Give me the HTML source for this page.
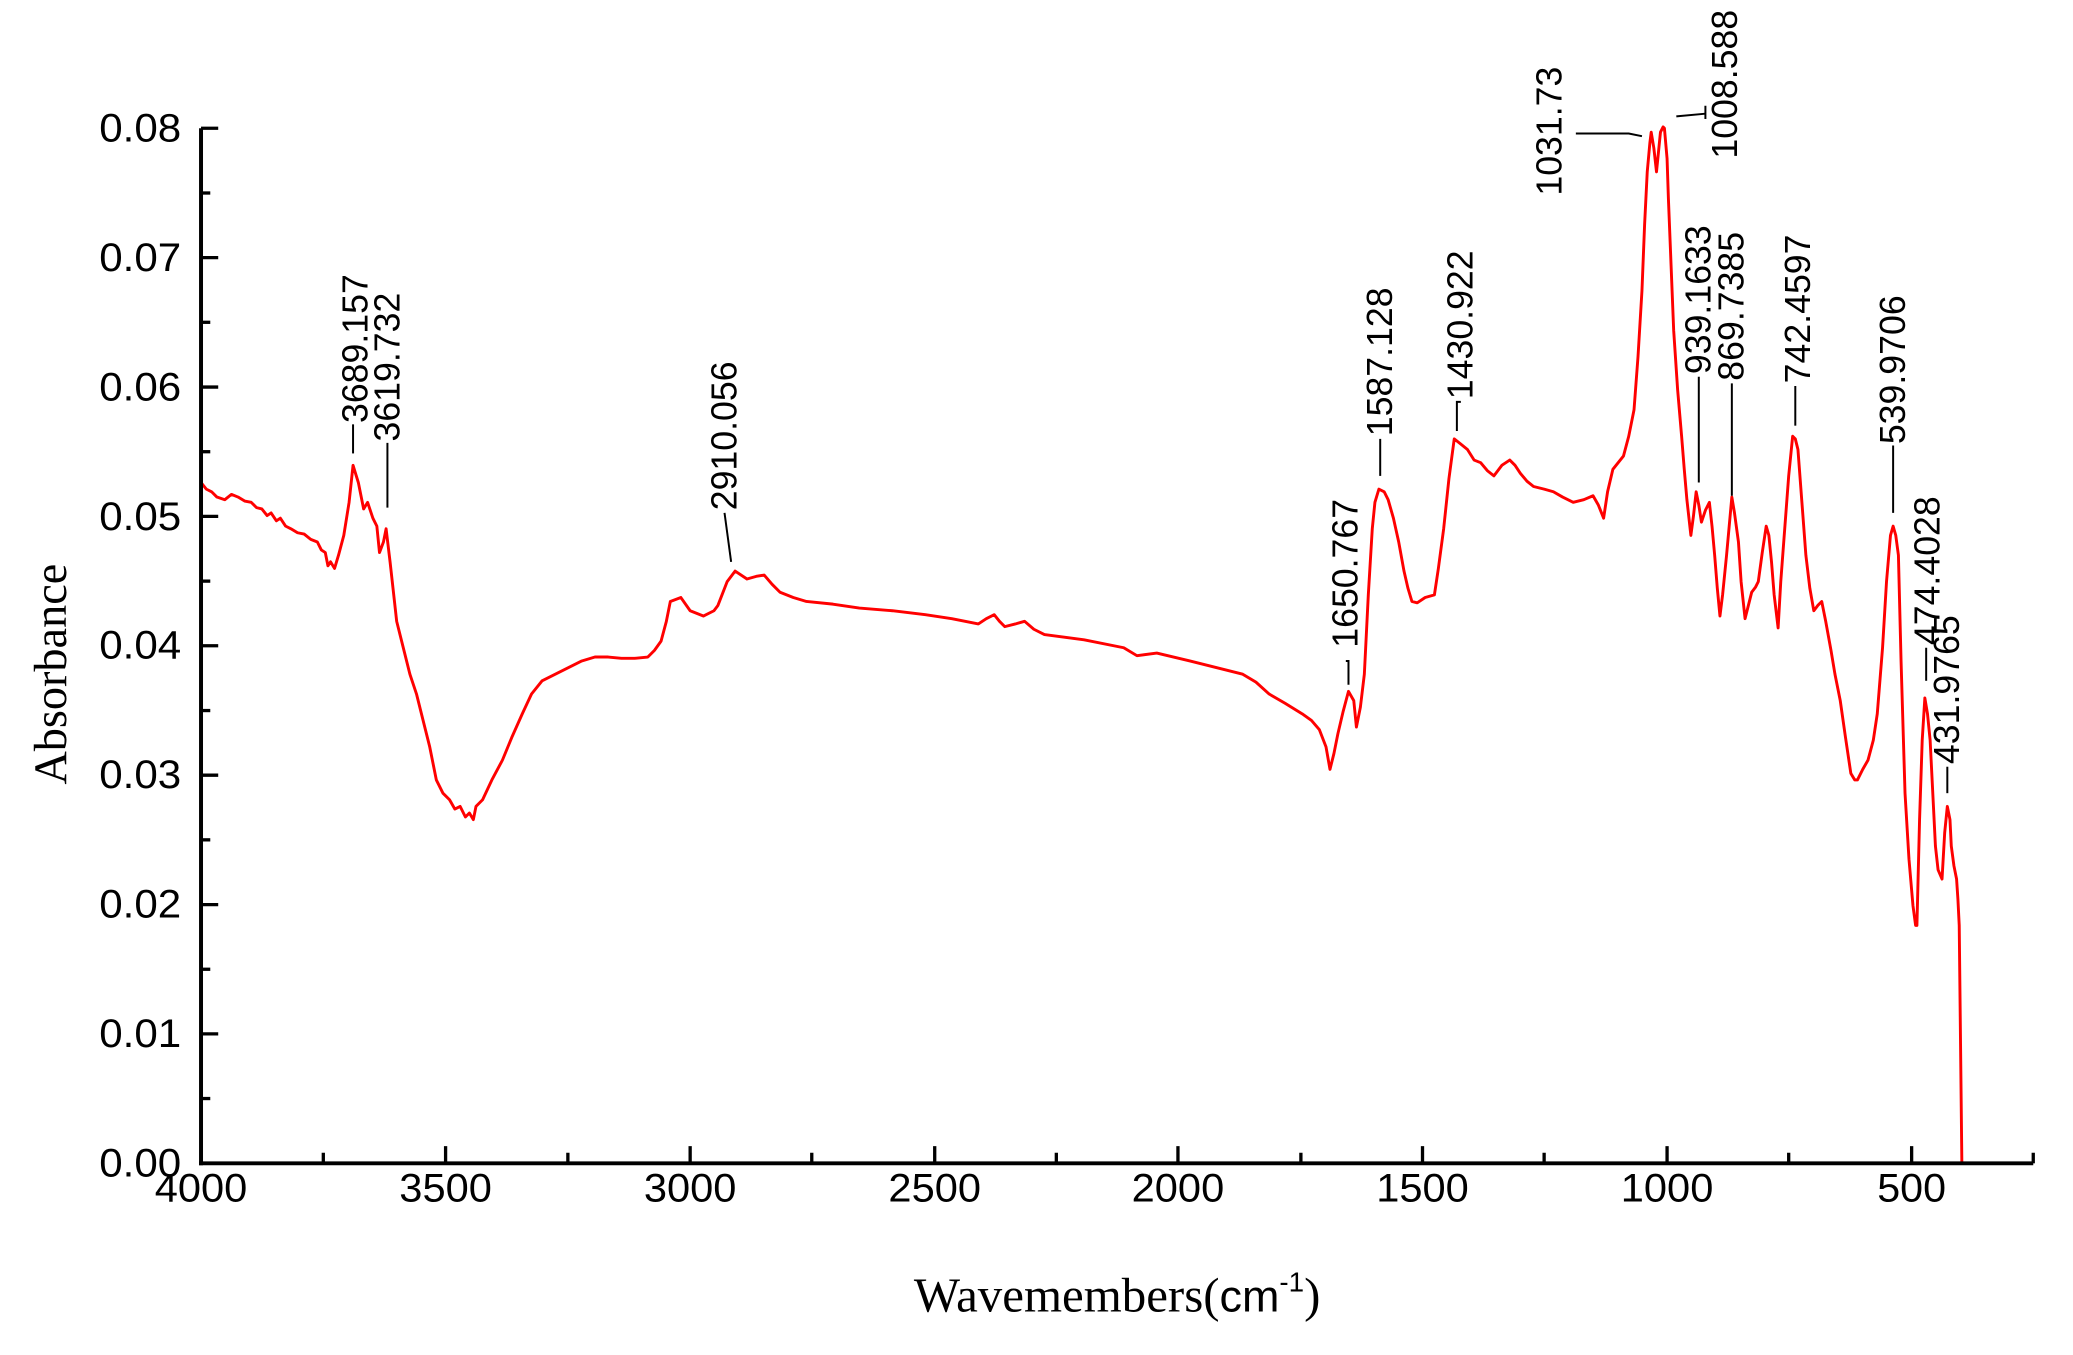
<!DOCTYPE html>
<html><head><meta charset="utf-8"><style>html,body{margin:0;padding:0;background:#fff}svg{display:block}</style></head>
<body>
<svg width="2073" height="1355" viewBox="0 0 1568 1025" xmlns="http://www.w3.org/2000/svg">
<rect width="1568" height="1025" fill="#fff"/>
<polyline fill="none" stroke="#f00" stroke-width="2.2" stroke-linejoin="round" points="152,880 152,365 156,370 160,372 164,376 170,378 175,374 180,376 185,379 190,380 194,384 198,385 202,390 205,388 209,394 212,392 216,398 220,400 225,403 230,404 235,408 240,410 243,416 246,418 248,428 250,425 253,430 256,420 260,405 264,380 267,352 271,365 275,385 278,380 282,392 285,398 287,418 290,410 292,400 295,425 300,470 305,490 310,510 315,525 320,545 325,565 330,590 335,600 340,605 344,612 348,610 352,618 355,615 358,620 360,610 365,605 372,590 380,575 387,558 395,540 402,525 410,515 420,510 430,505 440,500 450,497 460,497 470,498 480,498 490,497 495,492 500,485 504,470 507,455 515,452 522,462 532,466 540,462 543,458 550,440 556,432 565,438 572,436 578,435 584,442 590,448 600,452 610,455 630,457 650,460 675,462 700,465 720,468 740,472 746,468 752,465 756,470 760,474 768,472 775,470 782,476 790,480 820,484 850,490 860,496 875,494 900,500 920,505 940,510 950,516 960,525 972,532 985,540 992,545 998,552 1003,565 1006,582 1009,570 1012,555 1016,538 1020,523 1024,530 1026,550 1029,535 1032,510 1035,450 1038,400 1040,380 1043,370 1047,372 1050,378 1054,392 1058,410 1062,432 1065,445 1068,455 1072,456 1078,452 1085,450 1088,430 1092,400 1096,362 1100,332 1105,336 1110,340 1115,348 1120,350 1125,356 1130,360 1136,352 1142,348 1146,352 1150,358 1155,364 1160,368 1168,370 1175,372 1182,376 1190,380 1198,378 1205,375 1209,382 1213,392 1216,372 1220,355 1224,350 1228,345 1232,330 1236,310 1239,270 1242,220 1244,170 1246,130 1248,108 1249,100 1251,112 1253,130 1255,110 1256,100 1258,96 1259,97 1261,120 1262,150 1264,200 1266,250 1269,295 1272,330 1274,355 1276,378 1279,405 1281,390 1283,372 1285,382 1287,395 1290,386 1293,380 1295,398 1297,420 1299,445 1301,466 1303,450 1306,420 1308,398 1310,376 1312,388 1315,410 1317,440 1320,468 1322,460 1325,448 1328,444 1330,440 1333,418 1336,398 1338,405 1340,425 1342,450 1345,475 1347,440 1350,400 1353,360 1356,330 1358,332 1360,340 1363,380 1366,420 1369,445 1372,462 1375,458 1378,455 1381,470 1385,492 1388,510 1392,530 1396,558 1400,585 1403,590 1405,590 1409,582 1413,575 1417,560 1420,540 1424,490 1427,440 1430,405 1432,398 1434,405 1436,420 1438,500 1441,600 1444,650 1447,685 1449,700 1450,700 1452,620 1454,560 1456,528 1458,540 1460,560 1462,600 1464,640 1466,658 1469,665 1471,630 1473,610 1475,620 1476,640 1478,655 1480,665 1481,680 1482,700 1483,790 1484,880"/>
<g stroke="#000" stroke-width="3" fill="none">
<line x1="152" y1="97" x2="152" y2="881.5"/>
<line x1="150.5" y1="880" x2="1538" y2="880"/>
</g>
<g stroke="#000" stroke-width="2.5">
<line x1="152" y1="880" x2="165" y2="880"/><line x1="152" y1="782.1" x2="165" y2="782.1"/><line x1="152" y1="684.3" x2="165" y2="684.3"/><line x1="152" y1="586.4" x2="165" y2="586.4"/><line x1="152" y1="488.5" x2="165" y2="488.5"/><line x1="152" y1="390.6" x2="165" y2="390.6"/><line x1="152" y1="292.8" x2="165" y2="292.8"/><line x1="152" y1="194.9" x2="165" y2="194.9"/><line x1="152" y1="97" x2="165" y2="97"/>
<line x1="152" y1="831" x2="159" y2="831"/><line x1="152" y1="733.2" x2="159" y2="733.2"/><line x1="152" y1="635.3" x2="159" y2="635.3"/><line x1="152" y1="537.5" x2="159" y2="537.5"/><line x1="152" y1="439.6" x2="159" y2="439.6"/><line x1="152" y1="341.7" x2="159" y2="341.7"/><line x1="152" y1="243.8" x2="159" y2="243.8"/><line x1="152" y1="146" x2="159" y2="146"/>
<line x1="337" y1="880" x2="337" y2="867"/><line x1="522" y1="880" x2="522" y2="867"/><line x1="707" y1="880" x2="707" y2="867"/><line x1="891" y1="880" x2="891" y2="867"/><line x1="1076" y1="880" x2="1076" y2="867"/><line x1="1261" y1="880" x2="1261" y2="867"/><line x1="1446" y1="880" x2="1446" y2="867"/>
<line x1="244.5" y1="880" x2="244.5" y2="872"/><line x1="429.5" y1="880" x2="429.5" y2="872"/><line x1="614" y1="880" x2="614" y2="872"/><line x1="799" y1="880" x2="799" y2="872"/><line x1="984" y1="880" x2="984" y2="872"/><line x1="1168" y1="880" x2="1168" y2="872"/><line x1="1353" y1="880" x2="1353" y2="872"/><line x1="1538" y1="880" x2="1538" y2="872"/>
</g>
<g font-family="Liberation Sans, Arial, sans-serif" font-size="30" fill="#000" text-anchor="end">
<text x="137" y="890" textLength="62" lengthAdjust="spacingAndGlyphs">0.00</text>
<text x="137" y="792" textLength="62" lengthAdjust="spacingAndGlyphs">0.01</text>
<text x="137" y="694" textLength="62" lengthAdjust="spacingAndGlyphs">0.02</text>
<text x="137" y="596" textLength="62" lengthAdjust="spacingAndGlyphs">0.03</text>
<text x="137" y="498" textLength="62" lengthAdjust="spacingAndGlyphs">0.04</text>
<text x="137" y="401" textLength="62" lengthAdjust="spacingAndGlyphs">0.05</text>
<text x="137" y="303" textLength="62" lengthAdjust="spacingAndGlyphs">0.06</text>
<text x="137" y="205" textLength="62" lengthAdjust="spacingAndGlyphs">0.07</text>
<text x="137" y="107" textLength="62" lengthAdjust="spacingAndGlyphs">0.08</text>
</g>
<g font-family="Liberation Sans, Arial, sans-serif" font-size="30" fill="#000" text-anchor="middle">
<text x="152" y="909" textLength="70" lengthAdjust="spacingAndGlyphs">4000</text>
<text x="337" y="909" textLength="70" lengthAdjust="spacingAndGlyphs">3500</text>
<text x="522" y="909" textLength="70" lengthAdjust="spacingAndGlyphs">3000</text>
<text x="707" y="909" textLength="70" lengthAdjust="spacingAndGlyphs">2500</text>
<text x="891" y="909" textLength="70" lengthAdjust="spacingAndGlyphs">2000</text>
<text x="1076" y="909" textLength="70" lengthAdjust="spacingAndGlyphs">1500</text>
<text x="1261" y="909" textLength="70" lengthAdjust="spacingAndGlyphs">1000</text>
<text x="1446" y="909" textLength="52" lengthAdjust="spacingAndGlyphs">500</text>
</g>
<text transform="translate(50,510) rotate(-90)" font-family="Liberation Serif, serif" font-size="35" text-anchor="middle">Absorbance</text>
<text x="845" y="992" font-family="Liberation Serif, serif" font-size="37" text-anchor="middle">Wavemembers(<tspan font-family="Liberation Sans, sans-serif" font-size="34">cm</tspan><tspan font-family="Liberation Sans, sans-serif" font-size="21" dy="-15">-1</tspan><tspan dy="15">)</tspan></text>
<g font-family="Liberation Sans, Arial, sans-serif" font-size="27" fill="#000">
<text transform="translate(278,320) rotate(-90)">3689.157</text>
<text transform="translate(302,334) rotate(-90)">3619.732</text>
<text transform="translate(557,386) rotate(-90)">2910.056</text>
<text transform="translate(1027,490) rotate(-90)">1650.767</text>
<text transform="translate(1053,330) rotate(-90)">1587.128</text>
<text transform="translate(1114,302) rotate(-90)">1430.922</text>
<text transform="translate(1181,148) rotate(-90)">1031.73</text>
<text transform="translate(1314,120) rotate(-90)">1008.588</text>
<text transform="translate(1294,283) rotate(-90)">939.1633</text>
<text transform="translate(1319,288) rotate(-90)">869.7385</text>
<text transform="translate(1369,290) rotate(-90)">742.4597</text>
<text transform="translate(1441,336) rotate(-90)">539.9706</text>
<text transform="translate(1467,488) rotate(-90)">474.4028</text>
<text transform="translate(1482,578) rotate(-90)">431.9765</text>
</g>
<g stroke="#000" stroke-width="1.5" fill="none">
<line x1="267" y1="321" x2="267" y2="343"/>
<line x1="293" y1="335" x2="293" y2="384"/>
<line x1="548" y1="388" x2="553" y2="425"/>
<polyline points="1018,500 1020,500 1020,518"/>
<polyline points="1044,332 1044,360"/>
<polyline points="1105,304 1102,304 1102,326"/>
<polyline points="1192,101 1232,101 1242,103"/>
<polyline points="1268,88 1290,86"/>
<line x1="1290" y1="80" x2="1290" y2="90"/>
<line x1="1285" y1="285" x2="1285" y2="365"/>
<line x1="1310" y1="290" x2="1310" y2="375"/>
<line x1="1358" y1="292" x2="1358" y2="322"/>
<line x1="1432" y1="337" x2="1432" y2="388"/>
<line x1="1457" y1="490" x2="1457" y2="515"/>
<line x1="1473" y1="580" x2="1473" y2="600"/>
</g>
</svg>
</body></html>
